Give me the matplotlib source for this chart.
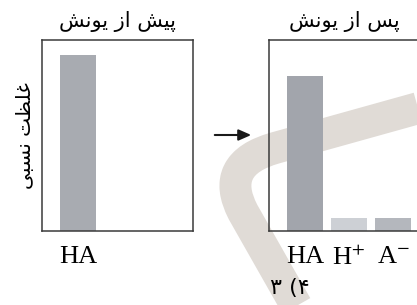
import matplotlib
matplotlib.use("Agg")
import matplotlib.pyplot as plt
from matplotlib.path import Path
from matplotlib.patches import PathPatch, FancyArrowPatch

plt.rcParams['mathtext.fontset'] = 'stix'

# ---- data ----
before_labels = ['HA']
before_values = [0.92]
after_labels = ['HA', 'H$^{+}$', 'A$^{-}$']
after_values = [0.81, 0.07, 0.07]
before_colors = ['#a8abb1']
after_colors = ['#a2a5ac', '#cdd0d5', '#b4b7bd']

# Persian text (presentation forms, visual order)
title_before = '\uFEB6\uFEE7\uFEEE\uFBFE \uFEAF\uFE8D \uFEB6\uFBFF\uFB58'   # پیش از یونش
title_after = '\uFEB6\uFEE7\uFEEE\uFBFE \uFEAF\uFE8D \uFEB2\uFB58'          # پس از یونش
ylabel_text = '\uFBFD\uFE92\uFEB4\uFEE7 \uFE96\uFEC8\uFEE0\uFECF'           # غلظت نسبی
option_text = '\u06F3 (\u06F4'

W, H = 417, 305
fig = plt.figure(figsize=(W / 100, H / 100), dpi=100)

def fx(x):
    return x / W

def fy(y):
    return 1 - y / H

# watermark band (decoration)
verts = [(fx(440), fy(102)), (fx(275), fy(148)), (fx(218), fy(164)), (fx(243), fy(212)), (fx(310), fy(330))]
codes = [Path.MOVETO, Path.LINETO, Path.CURVE3, Path.CURVE3, Path.LINETO]
band = PathPatch(Path(verts, codes), transform=fig.transFigure, fill=False,
                 edgecolor='#e0dbd6', linewidth=23, capstyle='butt', joinstyle='round', zorder=0)
fig.add_artist(band)

axw, axh = 151 / W, 191 / H
bottom = 1 - 231 / H
ax1 = fig.add_axes([42 / W, bottom, axw, axh])
ax2 = fig.add_axes([269 / W, bottom, axw, axh])

serif = 'Liberation Serif'
for ax, labels, vals, cols, title in [
        (ax1, before_labels, before_values, before_colors, title_before),
        (ax2, after_labels, after_values, after_colors, title_after)]:
    ax.set_facecolor('none')
    x = list(range(len(labels)))
    ax.bar(x, vals, width=0.84, color=cols, zorder=2)
    ax.set_xlim(-0.818, 2.614)
    ax.set_ylim(0, 1)
    ax.set_yticks([])
    ax.set_xticks(x)
    ax.set_xticklabels(labels, fontsize=19, family=serif)
    ax.tick_params(axis='x', length=0, pad=11)
    for s in ax.spines.values():
        s.set_linewidth(1.1)
        s.set_color('#3a3a3a')
    ax.set_title(title, fontsize=15, family='DejaVu Sans', pad=9)

ax1.set_ylabel(ylabel_text, fontsize=14.5, family='DejaVu Sans', labelpad=5)

arrow = FancyArrowPatch((fx(212), fy(135)), (fx(254), fy(135)), transform=fig.transFigure,
                        arrowstyle='-|>,head_length=5,head_width=2.2', color='#1a1a1a',
                        linewidth=1.5, mutation_scale=1.5)
fig.add_artist(arrow)

fig.text(fx(290), fy(288), option_text, fontsize=16, family='DejaVu Sans',
         ha='center', va='center')

fig.savefig('out.png', dpi=100)
